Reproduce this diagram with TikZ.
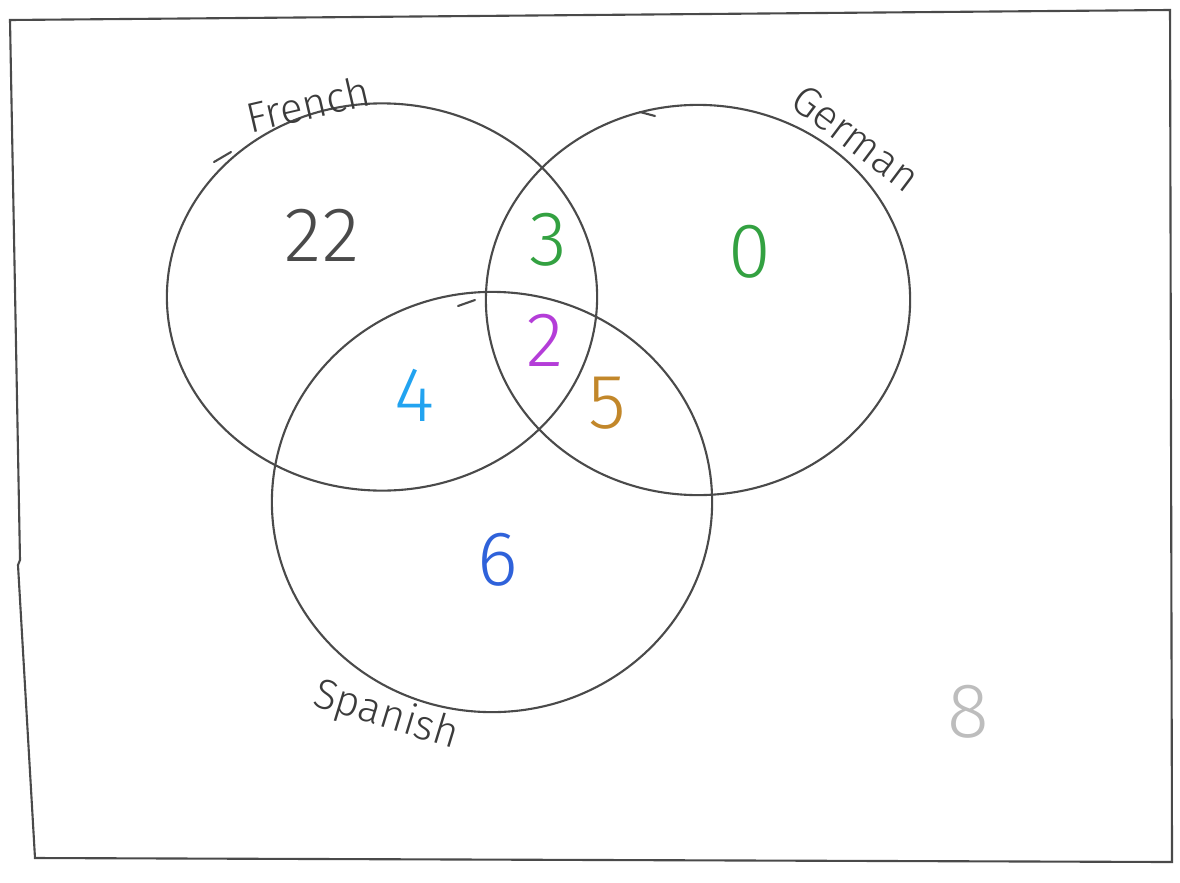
\documentclass[tikz,border=0pt]{standalone}
\usepackage{fontspec}
\setmainfont{Fira Sans Light}
\usepackage{tikz}
\usetikzlibrary{positioning,shapes.geometric}
\definecolor{pen}{HTML}{4A4A4A}
\definecolor{grn}{HTML}{33A141}
\definecolor{purp}{HTML}{B43DD8}
\definecolor{sky}{HTML}{22A3F0}
\definecolor{ochre}{HTML}{C2872A}
\definecolor{blu}{HTML}{2F62DA}
\definecolor{faint}{HTML}{BDBDBD}

\begin{document}
\begin{tikzpicture}[x=0.01cm,y=-0.01cm,
  ring/.style={draw=pen,line width=0.6pt,ellipse,inner sep=0pt},
  setname/.style={text=pen!80!black,font=\fontsize{12}{12}\selectfont},
  num/.style={font=\fontsize{22}{22}\selectfont},
  stroke/.style={pen,line width=0.6pt,line cap=round}
]
  \useasboundingbox (0,0) rectangle (1180,882);
  % frame
  \draw[stroke] (10,20) -- (1170,10) -- (1172,862) -- (35,858) -- (18,565)
    -- (20,560) -- cycle;
  % sets
  \node[ring,minimum width=4.3cm,minimum height=3.87cm] (french) at (382,297) {};
  \node[ring,minimum width=4.24cm,minimum height=3.9cm] (german) at (698,300) {};
  \node[ring,minimum width=4.4cm,minimum height=4.2cm] (spanish) at (492,502) {};
  % loose pen ends
  \draw[stroke] (214,162) -- (231,152);
  \draw[stroke] (640,112) -- (655,116);
  \draw[stroke] (458,306) -- (475,300);
  % set names
  \node[setname,rotate=13] (lfrench) at (308,104) {French};
  \node[setname,rotate=-37] (lgerman) at (856,138) {German};
  \node[setname,rotate=-17] (lspanish) at (386,716) {Spanish};
  % counts
  \node[num,text=pen] (nf) at (322,235) {22};
  \node[num,text=grn] (nfg) at (548,240) {3};
  \node[num,text=grn] (ng) at (750,252) {0};
  \node[num,text=purp] (nall) at (545,340) {2};
  \node[num,text=sky] (nfs) at (415,395) {4};
  \node[num,text=ochre] (ngs) at (607,403) {5};
  \node[num,text=blu] (ns) at (498,560) {6};
  \node[num,text=faint] (none) at (968,712) {8};
\end{tikzpicture}
\end{document}
